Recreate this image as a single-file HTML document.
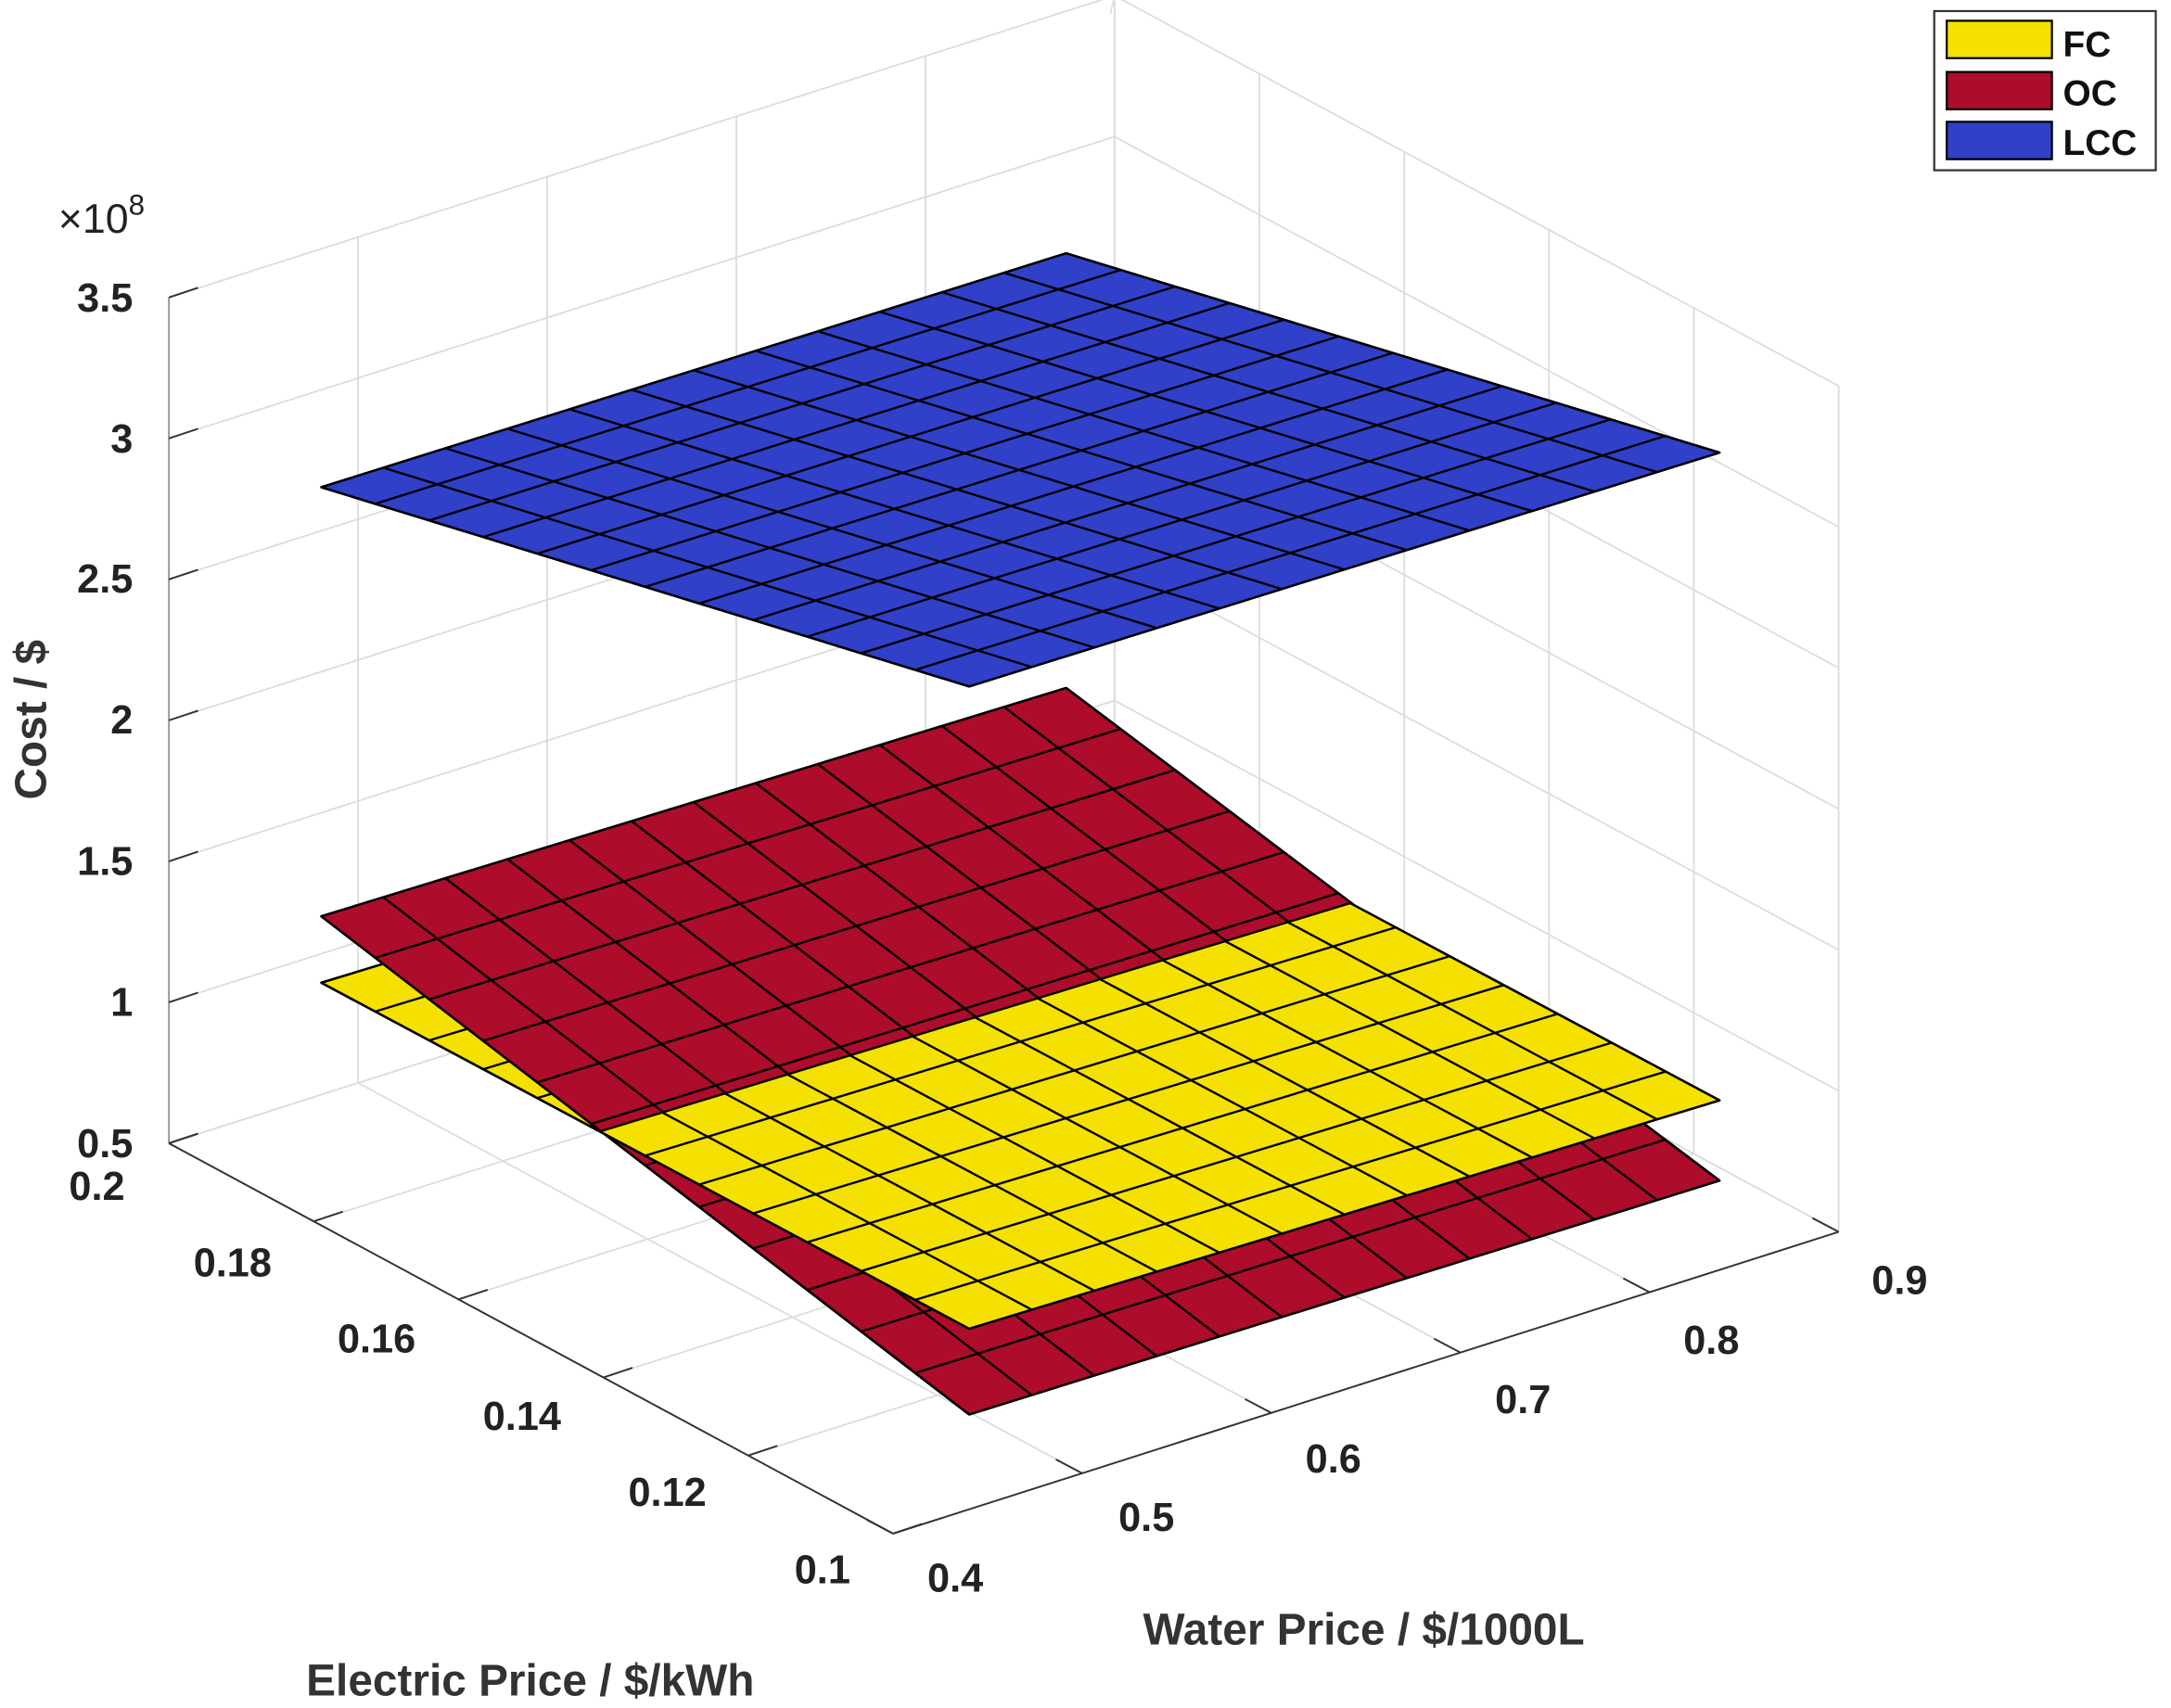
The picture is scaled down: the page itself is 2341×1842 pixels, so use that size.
<!DOCTYPE html>
<html><head><meta charset="utf-8"><style>html,body{margin:0;padding:0;background:#fff;}svg{display:block}</style></head>
<body>
<svg id="s" xmlns="http://www.w3.org/2000/svg" width="2341" height="1842" viewBox="0 0 1568 1234" preserveAspectRatio="none" font-family="Liberation Sans, sans-serif" font-weight="bold">
<rect width="1568" height="1234" fill="#fff"/>
<g id="grid" stroke="#dcdcdc" stroke-width="1.2" fill="none"></g>
<g id="axes" stroke="#333" stroke-width="1.3" fill="none"></g>
<g id="surf" stroke="#000" stroke-width="1.6" stroke-linejoin="round"></g>
<g font-size="29" fill="#222">
<text x="96" y="225" text-anchor="end">3.5</text>
<text x="96" y="327" text-anchor="end">3</text>
<text x="96" y="428" text-anchor="end">2.5</text>
<text x="96" y="530" text-anchor="end">2</text>
<text x="96" y="632" text-anchor="end">1.5</text>
<text x="96" y="734" text-anchor="end">1</text>
<text x="96" y="836" text-anchor="end">0.5</text>
<text x="70" y="867" text-anchor="middle">0.2</text>
<text x="168" y="922" text-anchor="middle">0.18</text>
<text x="272" y="977" text-anchor="middle">0.16</text>
<text x="377" y="1033" text-anchor="middle">0.14</text>
<text x="482" y="1088" text-anchor="middle">0.12</text>
<text x="594" y="1144" text-anchor="middle">0.1</text>
<text x="690" y="1150" text-anchor="middle">0.4</text>
<text x="828" y="1106" text-anchor="middle">0.5</text>
<text x="963" y="1064" text-anchor="middle">0.6</text>
<text x="1100" y="1021" text-anchor="middle">0.7</text>
<text x="1236" y="978" text-anchor="middle">0.8</text>
<text x="1372" y="935" text-anchor="middle">0.9</text>
<text x="42" y="168" font-size="30" font-weight="normal">×10<tspan font-size="21" dy="-13">8</tspan></text>
</g>
<g font-size="32" fill="#333">
<text x="383" y="1225" text-anchor="middle">Electric Price / $/kWh</text>
<text x="985" y="1188" text-anchor="middle">Water Price / $/1000L</text>
<text transform="translate(33,520) rotate(-90)" text-anchor="middle">Cost / $</text>
</g>
<g>
<rect x="1397" y="8" width="160" height="115" fill="#fff" stroke="#333" stroke-width="1.5"/>
<rect x="1406" y="15" width="76" height="27" fill="#f5e100" stroke="#000" stroke-width="1.5"/>
<rect x="1406" y="52" width="76" height="27" fill="#ad0c2a" stroke="#000" stroke-width="1.5"/>
<rect x="1406" y="88" width="76" height="27" fill="#3040c8" stroke="#000" stroke-width="1.5"/>
<g font-size="26" fill="#111">
<text x="1490" y="41">FC</text>
<text x="1490" y="76">OC</text>
<text x="1490" y="112">LCC</text>
</g>
</g>
</svg>
<script>
(function(){
var NS="http://www.w3.org/2000/svg";
function el(p,t,a){var e=document.createElementNS(NS,t);for(var k in a)e.setAttribute(k,a[k]);p.appendChild(e);return e;}
function P(e,w,z){return [122+5230*(0.2-e)+1366*(w-0.4), 826+2820*(0.2-e)-436*(w-0.4)-(z-0.5)*203.7];}
var g=document.getElementById('grid'), ax=document.getElementById('axes');
function line(p,a,b,extra){var o={x1:a[0],y1:a[1],x2:b[0],y2:b[1]};for(var k in extra)o[k]=extra[k];el(p,'line',o);}
var zs=[0.5,1,1.5,2,2.5,3,3.5], es=[0.1,0.12,0.14,0.16,0.18,0.2], ws=[0.4,0.5,0.6,0.7,0.8,0.9];
zs.forEach(function(z){line(g,P(0.2,0.4,z),P(0.2,0.9,z));line(g,P(0.2,0.9,z),P(0.1,0.9,z));});
ws.forEach(function(w){line(g,P(0.2,w,0.5),P(0.2,w,3.5));line(g,P(0.2,w,0.5),P(0.1,w,0.5));});
es.forEach(function(e){line(g,P(e,0.9,0.5),P(e,0.9,3.5));line(g,P(e,0.4,0.5),P(e,0.9,0.5));});
line(g,P(0.2,0.9,3.5),[802,10]);
line(ax,P(0.2,0.4,0.5),P(0.1,0.4,0.5));line(ax,P(0.1,0.4,0.5),P(0.1,0.9,0.5));
line(ax,P(0.2,0.4,0.5),P(0.2,0.4,3.5),{stroke:'#999'});
es.forEach(function(e){var a=P(e,0.4,0.5);line(ax,a,[a[0]+21,a[1]-7]);});
ws.forEach(function(w){var a=P(0.1,w,0.5);line(ax,a,[a[0]-19,a[1]-10]);});
zs.forEach(function(z){var a=P(0.2,0.4,z);line(ax,a,[a[0]+21,a[1]-7]);});
var s=document.getElementById('surf');
function Q(c,u,v){var L=c[0],B=c[1],R=c[2],F=c[3];
 return [(1-u)*(1-v)*L[0]+u*(1-v)*F[0]+u*v*R[0]+(1-u)*v*B[0],(1-u)*(1-v)*L[1]+u*(1-v)*F[1]+u*v*R[1]+(1-u)*v*B[1]];}
function draw(c,col,u0,u1,nu,nv){
 var pts=[Q(c,u0,0),Q(c,u1,0),Q(c,u1,1),Q(c,u0,1)];
 el(s,'polygon',{points:pts.map(function(p){return p.join(',')}).join(' '),fill:col});
 for(var i=0;i<=nu;i++){var u=i/nu;if(u<u0-1e-6||u>u1+1e-6)continue;line(s,Q(c,u,0),Q(c,u,1));}
 for(var j=0;j<=nv;j++){var v=j/nv;line(s,Q(c,u0,v),Q(c,u1,v));}
 line(s,Q(c,u0,0),Q(c,u1,0));line(s,Q(c,u0,1),Q(c,u1,1));
}
var LCC=[[232,352],[770,183],[1242,327],[700,496]];
var OC=[[232,662],[770,497],[1242,853],[700,1022]];
var FC=[[232,710],[774,545],[1242,795],[700,960]];
var YEL='#f5e100',RED='#ad0c2a',BLU='#3040c8';
draw(LCC,BLU,0,1,12,12);
draw(FC,YEL,0,0.43,12,12);
draw(OC,RED,0,1,12,12);
draw(FC,YEL,0.43,1,12,12);
})();
</script>
</body></html>
